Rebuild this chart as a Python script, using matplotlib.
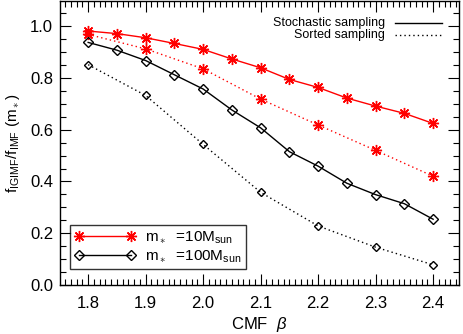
import matplotlib
matplotlib.use("Agg")
import matplotlib.pyplot as plt
from matplotlib.ticker import MultipleLocator

plt.rcParams["font.family"] = ["Liberation Sans", "DejaVu Sans"]
plt.rcParams["mathtext.fontset"] = "custom"
plt.rcParams["mathtext.rm"] = "Liberation Sans"
plt.rcParams["mathtext.it"] = "Liberation Sans:italic"
plt.rcParams["mathtext.bf"] = "Liberation Sans:bold"

# CMF slope beta
beta_stoch = [1.80, 1.85, 1.90, 1.95, 2.00, 2.05, 2.10, 2.15, 2.20, 2.25, 2.30, 2.35, 2.40]
beta_sort = [1.8, 1.9, 2.0, 2.1, 2.2, 2.3, 2.4]

# f_IGIMF / f_IMF at m* = 10 Msun
m10_stoch = [0.981, 0.971, 0.955, 0.933, 0.910, 0.873, 0.839, 0.794, 0.763, 0.722, 0.691, 0.663, 0.624]
m10_sort = [0.968, 0.912, 0.835, 0.718, 0.618, 0.520, 0.420]

# f_IGIMF / f_IMF at m* = 100 Msun
m100_stoch = [0.937, 0.907, 0.867, 0.812, 0.757, 0.676, 0.607, 0.515, 0.459, 0.393, 0.349, 0.314, 0.254]
m100_sort = [0.851, 0.732, 0.543, 0.358, 0.228, 0.146, 0.078]

RED = "#ff0000"
DOT = (0, (1, 2.2))
ASTER = (8, 2, 0)

fig = plt.figure(figsize=(4.63, 3.34), dpi=100)
ax = fig.add_axes([60 / 463, 49 / 334, 399 / 463, 284 / 334])

ax.plot(beta_stoch, m10_stoch, "-", color=RED, lw=1.0, marker=ASTER, ms=8, mew=1.0,
        label=r"m$_\ast$  =10M$_{\rm sun}$")
ax.plot(beta_sort, m10_sort, color=RED, ls=DOT, lw=1.0, marker=ASTER, ms=8, mew=1.0)
ax.plot(beta_stoch, m100_stoch, "-", color="black", lw=1.0, marker="D", ms=5, mfc="none",
        mew=1.0, label=r"m$_\ast$  =100M$_{\rm sun}$")
ax.plot(beta_sort, m100_sort, color="black", ls=DOT, lw=1.0, marker="D", ms=4.5, mfc="none",
        mew=1.0)

ax.set_xlim(1.751, 2.445)
ax.set_ylim(0.0, 1.097)
ax.xaxis.set_major_locator(MultipleLocator(0.1))
ax.xaxis.set_minor_locator(MultipleLocator(0.01))
ax.yaxis.set_major_locator(MultipleLocator(0.2))
ax.yaxis.set_minor_locator(MultipleLocator(0.05))
ax.tick_params(which="both", direction="in", top=True, right=True, width=0.8,
               labelsize=12, colors="black")
ax.tick_params(which="major", length=8)
ax.tick_params(which="minor", length=4)
ax.tick_params(axis="x", which="major", pad=8)
ax.tick_params(axis="y", which="major", pad=5)
ax.set_xticklabels([f"{v:.1f}" for v in ax.get_xticks()])
ax.set_yticklabels([f"{v:.1f}" for v in ax.get_yticks()])
for s in ax.spines.values():
    s.set_linewidth(1.0)

ax.set_xlabel(r"CMF  $\it{\beta}$", fontsize=12, labelpad=3)
ax.set_ylabel(r"f$_{\rm IGIMF}$/f$_{\rm IMF}$ (m$_\ast$)", fontsize=11, labelpad=6)

# line-style key, top right
ax.text(0.815, 0.924, "Stochastic sampling", transform=ax.transAxes, ha="right",
        va="center", fontsize=9)
ax.text(0.815, 0.881, "Sorted sampling", transform=ax.transAxes, ha="right",
        va="center", fontsize=9)
ax.plot([0.840, 0.957], [0.924, 0.924], "-", color="black", lw=1.0, transform=ax.transAxes)
ax.plot([0.840, 0.957], [0.881, 0.881], color="black", ls=DOT, lw=1.0, transform=ax.transAxes)

leg = ax.legend(loc="lower left", bbox_to_anchor=(0.025, 0.056), numpoints=2,
                handlelength=4.0, handletextpad=0.6, fontsize=11, frameon=True,
                fancybox=False, edgecolor="black", borderpad=0.3, labelspacing=0.15,
                borderaxespad=0)
leg.get_frame().set_linewidth(1.0)

fig.savefig("out.png", dpi=100, facecolor="white")
